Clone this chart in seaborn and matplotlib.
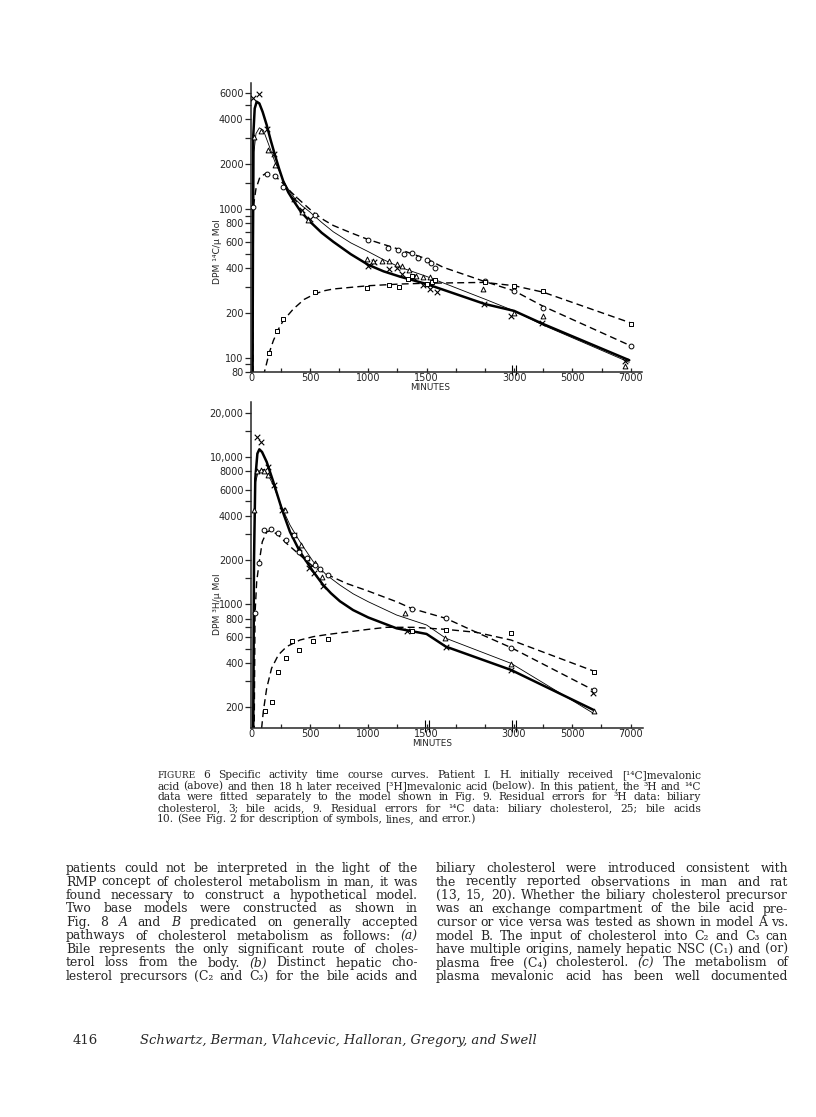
import numpy as np
import pandas as pd
import matplotlib
matplotlib.use("Agg")
import matplotlib.pyplot as plt
import seaborn as sns

# ---------------- upper panel: [14C]mevalonic acid ----------------
# fitted curves (minutes, DPM/umol)
c14_thick_t = [5, 14, 26, 43, 66, 94, 129, 163, 200, 236, 271, 314, 357, 420, 500, 600, 700, 850, 1000, 1130, 1271, 1500, 2500, 3000, 4000, 6950]
c14_thick_v = [20, 3120, 4720, 5240, 5100, 4480, 3650, 2890, 2290, 1850, 1530, 1290, 1138, 960, 820, 690, 600, 495, 420, 380, 350, 312, 229, 206, 168, 96]
c14_thin_t = [8, 20, 37, 66, 100, 143, 200, 236, 271, 320, 371, 430, 500, 600, 700, 850, 1000, 1130, 1271, 1500, 2500, 3000, 4000, 6950]
c14_thin_v = [20, 2410, 3200, 3500, 3370, 2740, 2060, 1790, 1553, 1330, 1168, 1050, 950, 810, 700, 590, 515, 455, 405, 351, 247, 206, 165, 93]
c14_circ_fit_t = [10, 14, 37, 71, 129, 200, 271, 340, 414, 543, 620, 700, 850, 1000, 1271, 1500, 1786, 2500, 3000, 4000, 7000]
c14_circ_fit_v = [20, 1026, 1364, 1635, 1740, 1660, 1474, 1290, 1138, 925, 840, 772, 690, 621, 532, 460, 404, 324, 281, 221, 120]
c14_sq_fit_t = [100, 129, 151, 186, 229, 271, 357, 450, 543, 620, 700, 1000, 1271, 1500, 2500, 3000, 4000, 7000]
c14_sq_fit_v = [75, 92, 108, 130, 155, 177, 212, 246, 268, 281, 289, 304, 312, 316, 320, 304, 275, 171]

# observed points
c14_x_t = [14, 66, 129, 191, 366, 429, 500, 1000, 1049, 1177, 1243, 1286, 1386, 1466, 1557, 1683, 2480, 2950, 3943, 6800]
c14_x_v = [5520, 5870, 3460, 2350, 1168, 975, 856, 415, 437, 394, 398, 364, 346, 309, 288, 277, 229, 191, 170, 95]
c14_tri_t = [20, 77, 143, 200, 429, 486, 986, 1043, 1114, 1177, 1243, 1286, 1351, 1409, 1466, 1557, 2460, 3000, 4000, 6800]
c14_tri_v = [3040, 3320, 2470, 1960, 950, 835, 460, 448, 443, 443, 426, 415, 388, 355, 346, 346, 289, 199, 191, 88]
c14_circ_t = [14, 129, 200, 266, 543, 1000, 1171, 1257, 1306, 1371, 1429, 1500, 1580, 1637, 2500, 3000, 4000, 7000]
c14_circ_v = [1026, 1705, 1660, 1400, 915, 621, 543, 530, 497, 505, 465, 455, 433, 398, 329, 279, 217, 120]
c14_sq_t = [151, 214, 271, 543, 986, 1177, 1266, 1343, 1371, 1500, 1591, 1643, 2500, 3000, 4000, 7000]
c14_sq_v = [108, 152, 181, 275, 292, 309, 300, 337, 355, 312, 320, 333, 320, 304, 279, 168]

# ---------------- lower panel: [3H]mevalonic acid ----------------
h3_thick_t = [8, 20, 31, 49, 66, 89, 129, 186, 257, 329, 414, 529, 614, 680, 757, 870, 1000, 1243, 1500, 1831, 2950, 5714]
h3_thick_v = [20, 1945, 7130, 10540, 11270, 10810, 9250, 6770, 4470, 3100, 2275, 1663, 1352, 1190, 1050, 915, 815, 688, 630, 517, 359, 193]
h3_thin_t = [14, 23, 34, 57, 100, 143, 186, 257, 329, 414, 529, 643, 757, 870, 1000, 1243, 1500, 1831, 2950, 5714]
h3_thin_v = [20, 3270, 6770, 7980, 8250, 7500, 6430, 4590, 3450, 2660, 1945, 1580, 1352, 1180, 1042, 847, 725, 589, 398, 183]
h3_circ_fit_t = [14, 29, 43, 63, 91, 129, 166, 229, 300, 414, 529, 657, 814, 1000, 1243, 1371, 1831, 2357, 2950, 5714]
h3_circ_fit_v = [20, 869, 1424, 1895, 2660, 3100, 3180, 2950, 2590, 2160, 1800, 1580, 1387, 1231, 1042, 939, 804, 646, 509, 263]
h3_sq_fit_t = [71, 86, 100, 129, 171, 229, 300, 414, 529, 657, 1000, 1157, 1386, 1831, 2357, 2950, 5714]
h3_sq_fit_v = [86, 146, 188, 270, 369, 454, 517, 573, 604, 626, 677, 699, 699, 677, 646, 573, 354]

h3_x_t = [49, 80, 143, 194, 263, 363, 409, 494, 534, 614, 1329, 1831, 2950, 5714]
h3_x_v = [13600, 12600, 8540, 6430, 4350, 2950, 2420, 1752, 1620, 1338, 660, 517, 359, 250]
h3_tri_t = [23, 49, 77, 106, 143, 286, 423, 477, 543, 606, 1314, 1814, 2950, 5737]
h3_tri_v = [4350, 7980, 8100, 7980, 7500, 4350, 2525, 2050, 1895, 1540, 869, 589, 393, 190]
h3_circ_t = [29, 63, 109, 166, 229, 294, 366, 409, 471, 543, 586, 657, 1371, 1831, 2950, 5743]
h3_circ_v = [869, 1895, 3180, 3270, 3050, 2730, 2950, 2275, 2050, 1850, 1750, 1580, 925, 812, 504, 263]
h3_sq_t = [114, 171, 229, 294, 343, 409, 529, 657, 1371, 1831, 2950, 5743]
h3_sq_v = [188, 219, 350, 431, 567, 491, 567, 580, 660, 670, 636, 350]

# axis ticks
x_major = [0, 500, 1000, 1500, 3000, 5000, 7000]
x_minor = [250, 750, 1250, 2000, 2500, 4000, 6000]
top_y_major = [80, 100, 200, 400, 600, 800, 1000, 2000, 4000, 6000]
top_y_minor = [90, 300, 500, 700, 900, 1500, 3000, 5000]
bot_y_major = [200, 400, 600, 800, 1000, 2000, 4000, 6000, 8000, 10000, 20000]
bot_y_labels = ["200", "400", "600", "800", "1000", "2000", "4000", "6000", "8000", "10,000", "20,000"]
bot_y_minor = [300, 500, 700, 1500, 3000, 5000, 15000]

caption = [
    "FIGURE 6  Specific activity time course curves. Patient I. H. initially received [¹⁴C]mevalonic",
    "acid (above) and then 18 h later received [³H]mevalonic acid (below). In this patient, the ³H and ¹⁴C",
    "data were fitted separately to the model shown in Fig. 9. Residual errors for ³H data: biliary",
    "cholesterol, 3; bile acids, 9. Residual errors for ¹⁴C data: biliary cholesterol, 25; bile acids",
    "10. (See Fig. 2 for description of symbols, lines, and error.)",
]
left_col = [
    "patients could not be interpreted in the light of the",
    "RMP concept of cholesterol metabolism in man, it was",
    "found necessary to construct a hypothetical model.",
    "Two base models were constructed as shown in",
    "Fig. 8 _A_ and _B_ predicated on generally accepted",
    "pathways of cholesterol metabolism as follows: _(a)_",
    "Bile represents the only significant route of choles-",
    "terol loss from the body. _(b)_ Distinct hepatic cho-",
    "lesterol precursors (C₂ and C₃) for the bile acids and",
]
right_col = [
    "biliary cholesterol were introduced consistent with",
    "the recently reported observations in man and rat",
    "(13, 15, 20). Whether the biliary cholesterol precursor",
    "was an exchange compartment of the bile acid pre-",
    "cursor or vice versa was tested as shown in model A vs.",
    "model B. The input of cholesterol into C₂ and C₃ can",
    "have multiple origins, namely hepatic NSC (C₁) and (or)",
    "plasma free (C₄) cholesterol. _(c)_ The metabolism of",
    "plasma mevalonic acid has been well documented",
]
page_no = "416"
authors = "Schwartz, Berman, Vlahcevic, Halloran, Gregory, and Swell"

W, H = 816, 1117
SERIF = ["DejaVu Serif", "DejaVu Sans"]
SERIF_NARROW = ["DejaVu Serif Condensed", "DejaVu Serif", "DejaVu Sans"]

sns.set_style("ticks")
plt.rcParams["font.family"] = ["DejaVu Sans"]
plt.rcParams["axes.linewidth"] = 1.1

BRK_MIN = [-1000, 0, 1500, 3000, 7000, 11000]
BRK_POS = [-2, 0, 3, 4.5, 6.5, 8.5]


def fwd(x):
    return np.interp(x, BRK_MIN, BRK_POS)


def inv(p):
    return np.interp(p, BRK_POS, BRK_MIN)


def frame(df_t, df_v):
    return pd.DataFrame({"t": df_t, "v": df_v})


def draw_panel(ax, fits, points, ymin, ymax, ymajor, ylabels, yminor, xmax, breaks):
    ax.set_xscale("function", functions=(fwd, inv))
    ax.set_yscale("log")
    # fitted curves: thick solid, thin solid, two dashed
    styles = [
        dict(color="black", lw=1.8),
        dict(color="black", lw=0.6),
        dict(color="black", lw=1.0, linestyle=(0, (5, 3))),
        dict(color="black", lw=1.0, linestyle=(0, (5, 3))),
    ]
    for (tt, vv), st in zip(fits, styles):
        sns.lineplot(data=frame(tt, vv), x="t", y="v", ax=ax, estimator=None, sort=False, **st)
    markers = ["x", "^", "o", "s"]
    for (tt, vv), m in zip(points, markers):
        if m == "x":
            sns.scatterplot(data=frame(tt, vv), x="t", y="v", ax=ax, marker="x", color="black",
                            s=16, linewidth=0.8, zorder=5)
        else:
            sns.scatterplot(data=frame(tt, vv), x="t", y="v", ax=ax, marker=m, facecolor="white",
                            edgecolor="black", s=12, linewidth=0.7, zorder=5)
    ax.set_xlim(-10, xmax)
    ax.set_ylim(ymin, ymax)
    ax.set_xticks(x_major)
    ax.set_xticklabels([str(v) for v in x_major])
    ax.set_xticks(x_minor, minor=True)
    ax.set_yticks(ymajor)
    ax.set_yticklabels(ylabels)
    ax.set_yticks(yminor, minor=True)
    ax.yaxis.set_minor_formatter(plt.NullFormatter())
    ax.tick_params(axis="x", which="both", direction="in", length=3, width=0.9, pad=1, labelsize=7)
    ax.tick_params(axis="y", which="both", direction="out", length=4, width=0.9, pad=1, labelsize=7)
    ax.set_xlabel("")
    ax.set_ylabel("")
    sns.despine(ax=ax)
    # axis-break marks
    for b in breaks:
        p = fwd(b)
        ax.vlines(inv(np.array([p - 0.035, p + 0.035])), -0.012, 0.025, transform=ax.get_xaxis_transform(),
                  color="black", lw=0.8, clip_on=False)


fig = plt.figure(figsize=(W / 100, H / 100), dpi=100)

ax1 = fig.add_axes([250.5 / W, 1 - 372 / H, 391 / W, 289 / H])
draw_panel(ax1,
           [(c14_thick_t, c14_thick_v), (c14_thin_t, c14_thin_v),
            (c14_circ_fit_t, c14_circ_fit_v), (c14_sq_fit_t, c14_sq_fit_v)],
           [(c14_x_t, c14_x_v), (c14_tri_t, c14_tri_v), (c14_circ_t, c14_circ_v), (c14_sq_t, c14_sq_v)],
           80, 7000, top_y_major, [str(v) for v in top_y_major], top_y_minor, 7370, [3000])

ax2 = fig.add_axes([250.5 / W, 1 - 728 / H, 392.6 / W, 326 / H])
draw_panel(ax2,
           [(h3_thick_t, h3_thick_v), (h3_thin_t, h3_thin_v),
            (h3_circ_fit_t, h3_circ_fit_v), (h3_sq_fit_t, h3_sq_fit_v)],
           [(h3_x_t, h3_x_v), (h3_tri_t, h3_tri_v), (h3_circ_t, h3_circ_v), (h3_sq_t, h3_sq_v)],
           145, 23600, bot_y_major, bot_y_labels, bot_y_minor, 7430, [1500, 3000])

fig.text(217 / W, 1 - 252 / H, "DPM ¹⁴C/μ Mol", rotation=90, ha="center", va="center", fontsize=6.6)
fig.text(217 / W, 1 - 604 / H, "DPM ³H/μ Mol", rotation=90, ha="center", va="center", fontsize=6.6)
fig.text(430 / W, 1 - 388 / H, "MINUTES", ha="center", va="center", fontsize=6.4)
fig.text(432 / W, 1 - 743 / H, "MINUTES", ha="center", va="center", fontsize=6.4)

# ---------------- justified page text ----------------
r = fig.canvas.get_renderer()


def parse(line):
    out = []
    for tok in line.split(" "):
        if tok == "":
            continue
        if tok.startswith("_") and tok.endswith("_") and len(tok) > 2:
            out.append((tok[1:-1], "italic", 1.0))
        elif tok == "FIGURE":
            out.append((tok, "normal", 0.85))
        else:
            out.append((tok, "normal", 1.0))
    return out


def width(txt, size, style, fam=SERIF):
    t = fig.text(0, 0, txt, fontsize=size, family=fam, style=style)
    w = t.get_window_extent(renderer=r).width
    t.remove()
    return w


def fit_size(lines, x0, x1, ragged_last, space_frac, fam=SERIF, base=10.0):
    words = [parse(l) for l in lines]
    sp = (width("n n", base, "normal", fam) - width("nn", base, "normal", fam)) * space_frac
    nat = [sum(width(w, base * f, s, fam) for w, s, f in ws) + sp * (len(ws) - 1) for ws in words]
    just = nat[:-1] if ragged_last else nat
    return base * (x1 - x0) / max(just)


def block(lines, x0, x1, y0, dy, ragged_last, size, fam=SERIF):
    words = [parse(l) for l in lines]
    sp = width("n n", size, "normal", fam) - width("nn", size, "normal", fam)
    for i, ws in enumerate(words):
        ww = [width(w, size * f, s, fam) for w, s, f in ws]
        if ragged_last and i == len(words) - 1:
            gap = sp
        else:
            gap = (x1 - x0 - sum(ww)) / max(len(ws) - 1, 1)
        x = x0
        yb = y0 + i * dy
        for (w, s, f), wv in zip(ws, ww):
            fig.text(x / W, 1 - yb / H, w, fontsize=size * f, family=fam, style=s, va="baseline", ha="left")
            x += wv + gap


body_size = min(fit_size(left_col, 66, 418, False, 1.0), fit_size(right_col, 436, 788, False, 1.0))
cap_size = min(0.86 * body_size, fit_size(caption, 157, 701, True, 0.3, SERIF_NARROW))
block(caption, 157, 701, 778.5, 11.0, True, cap_size, SERIF_NARROW)
block(left_col, 66, 418, 872, 13.5, False, body_size)
block(right_col, 436, 788, 872, 13.5, False, body_size)

fig.text(73 / W, 1 - 1044 / H, page_no, fontsize=9.5, family=SERIF, va="baseline", ha="left")
aw = width(authors, 10, "italic")
fig.text(140 / W, 1 - 1044 / H, authors, fontsize=10 * 396 / aw, family=SERIF, style="italic",
         va="baseline", ha="left")

fig.savefig("out.png", dpi=100, facecolor="white")
